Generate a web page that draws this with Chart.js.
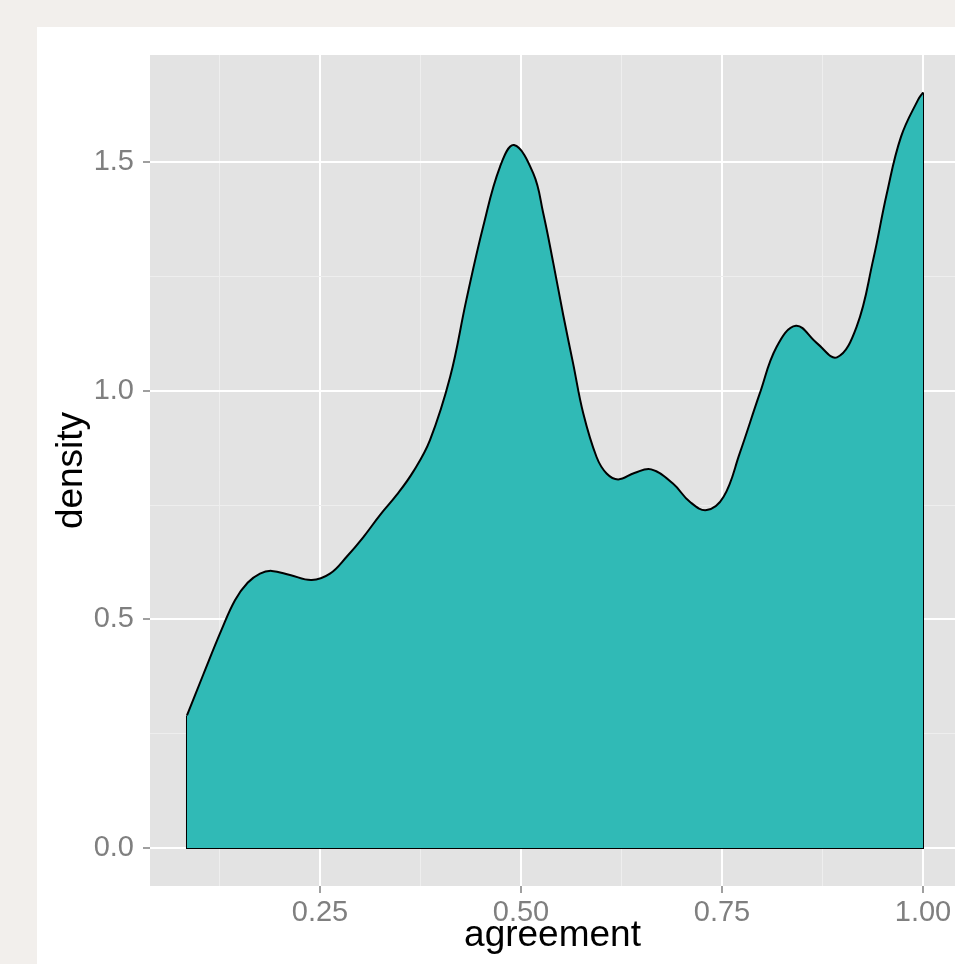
<!DOCTYPE html>
<html>
<head>
<meta charset="utf-8">
<script src="https://cdn.jsdelivr.net/npm/chart.js@4/dist/chart.umd.min.js"></script>
<style>
    html, body { margin: 0; padding: 0; background: #f2efec; }
    #wrap { width: 955px; height: 964px; }
</style>
</head>
<body>
<div id="wrap"><canvas id="densityChart" width="955" height="964"></canvas></div>
<script>
// density estimate of "agreement"
const agreement = [0.0846, 0.105, 0.1275, 0.1443, 0.160, 0.1754, 0.190, 0.2127, 0.2397, 0.2624,
    0.2832, 0.304, 0.3246, 0.3454, 0.366, 0.3868, 0.412, 0.432, 0.453, 0.474,
    0.4913, 0.5153, 0.5277, 0.5402, 0.5526, 0.565, 0.5775, 0.594, 0.6065, 0.621,
    0.641, 0.662, 0.689, 0.710, 0.731, 0.752, 0.772, 0.797, 0.818, 0.842,
    0.868, 0.893, 0.9175, 0.938, 0.955, 0.9726, 0.9938, 1.0];
const density = [0.290, 0.380, 0.477, 0.542, 0.580, 0.600, 0.606, 0.597, 0.586, 0.600,
    0.637, 0.680, 0.728, 0.772, 0.823, 0.892, 1.031, 1.198, 1.359, 1.490,
    1.537, 1.475, 1.388, 1.279, 1.165, 1.058, 0.950, 0.855, 0.819, 0.806,
    0.820, 0.828, 0.797, 0.757, 0.739, 0.768, 0.863, 0.994, 1.096, 1.142,
    1.104, 1.073, 1.140, 1.286, 1.431, 1.555, 1.636, 1.652];

const xTicks = [0.125, 0.25, 0.375, 0.5, 0.625, 0.75, 0.875, 1.0];
const xTickLabels = ['', '0.25', '', '0.50', '', '0.75', '', '1.00'];
const yTicks = [0, 0.25, 0.5, 0.75, 1.0, 1.25, 1.5];
const yTickLabels = ['0.0', '', '0.5', '', '1.0', '', '1.5'];

const curvePoints = agreement.map((x, i) => ({ x: x, y: density[i] }));
const first = 0, last = agreement.length - 1;
const edgePoints = [
    { x: agreement[first], y: density[first] },
    { x: agreement[first], y: 0 },
    { x: agreement[last], y: 0 },
    { x: agreement[last], y: density[last] }
];

const backgroundPlugin = {
    id: 'panels',
    beforeDraw(chart) {
        const ctx = chart.ctx;
        const area = chart.chartArea;
        ctx.save();
        ctx.fillStyle = '#f2efec';
        ctx.fillRect(0, 0, chart.width, chart.height);
        ctx.fillStyle = '#ffffff';
        ctx.fillRect(37, 27, chart.width - 37, chart.height - 27);
        ctx.fillStyle = '#e3e3e3';
        ctx.fillRect(area.left, area.top, area.right - area.left, area.bottom - area.top);
        ctx.restore();
    }
};

function isMajor(list, labels, value) {
    const i = list.indexOf(value);
    return i >= 0 && labels[i] !== '';
}

function gridFor(list, labels) {
    return {
        color: ctx => isMajor(list, labels, ctx.tick.value) ? '#ffffff' : '#eeeeee',
        lineWidth: ctx => isMajor(list, labels, ctx.tick.value) ? 2 : 1,
        tickColor: ctx => isMajor(list, labels, ctx.tick.value) ? '#7f7f7f' : 'rgba(0,0,0,0)',
        tickWidth: 1.5,
        tickLength: 7,
        drawTicks: true
    };
}

const ctx = document.getElementById('densityChart').getContext('2d');
new Chart(ctx, {
    type: 'line',
    data: {
        datasets: [{
            label: 'density',
            data: curvePoints,
            borderColor: '#000000',
            borderWidth: 2,
            backgroundColor: '#30bab6',
            fill: 'origin',
            pointRadius: 0,
            tension: 0.4
        }, {
            label: 'edges',
            data: edgePoints,
            borderColor: '#000000',
            borderWidth: 2,
            fill: false,
            pointRadius: 0,
            tension: 0
        }]
    },
    options: {
        responsive: false,
        animation: false,
        devicePixelRatio: 1,
        layout: { padding: { top: 55, left: 0, right: 0, bottom: 0 } },
        plugins: {
            legend: { display: false },
            tooltip: { enabled: false }
        },
        scales: {
            x: {
                type: 'linear',
                min: 0.0386,
                max: 1.0398,
                border: { display: false },
                grid: gridFor(xTicks, xTickLabels),
                afterBuildTicks: scale => { scale.ticks = xTicks.map(v => ({ value: v })); },
                afterFit: scale => { scale.height = 78; },
                ticks: {
                    autoSkip: false,
                    maxRotation: 0,
                    padding: 3,
                    color: '#7f7f7f',
                    font: { family: 'Liberation Sans', size: 29 },
                    callback: value => xTickLabels[xTicks.indexOf(value)] || ''
                },
                title: {
                    display: true,
                    text: 'agreement',
                    color: '#000000',
                    font: { family: 'Liberation Sans', size: 37 },
                    padding: { top: 0, bottom: 6 }
                }
            },
            y: {
                type: 'linear',
                min: -0.083,
                max: 1.734,
                border: { display: false },
                grid: gridFor(yTicks, yTickLabels),
                afterBuildTicks: scale => { scale.ticks = yTicks.map(v => ({ value: v })); },
                afterFit: scale => { scale.width = 150; },
                ticks: {
                    autoSkip: false,
                    padding: 9,
                    color: '#7f7f7f',
                    font: { family: 'Liberation Sans', size: 29 },
                    callback: value => yTickLabels[yTicks.indexOf(value)] || ''
                },
                title: {
                    display: true,
                    text: 'density',
                    color: '#000000',
                    font: { family: 'Liberation Sans', size: 37 },
                    padding: { top: 50, bottom: 0 }
                }
            }
        }
    },
    plugins: [backgroundPlugin]
});
</script>
</body>
</html>
